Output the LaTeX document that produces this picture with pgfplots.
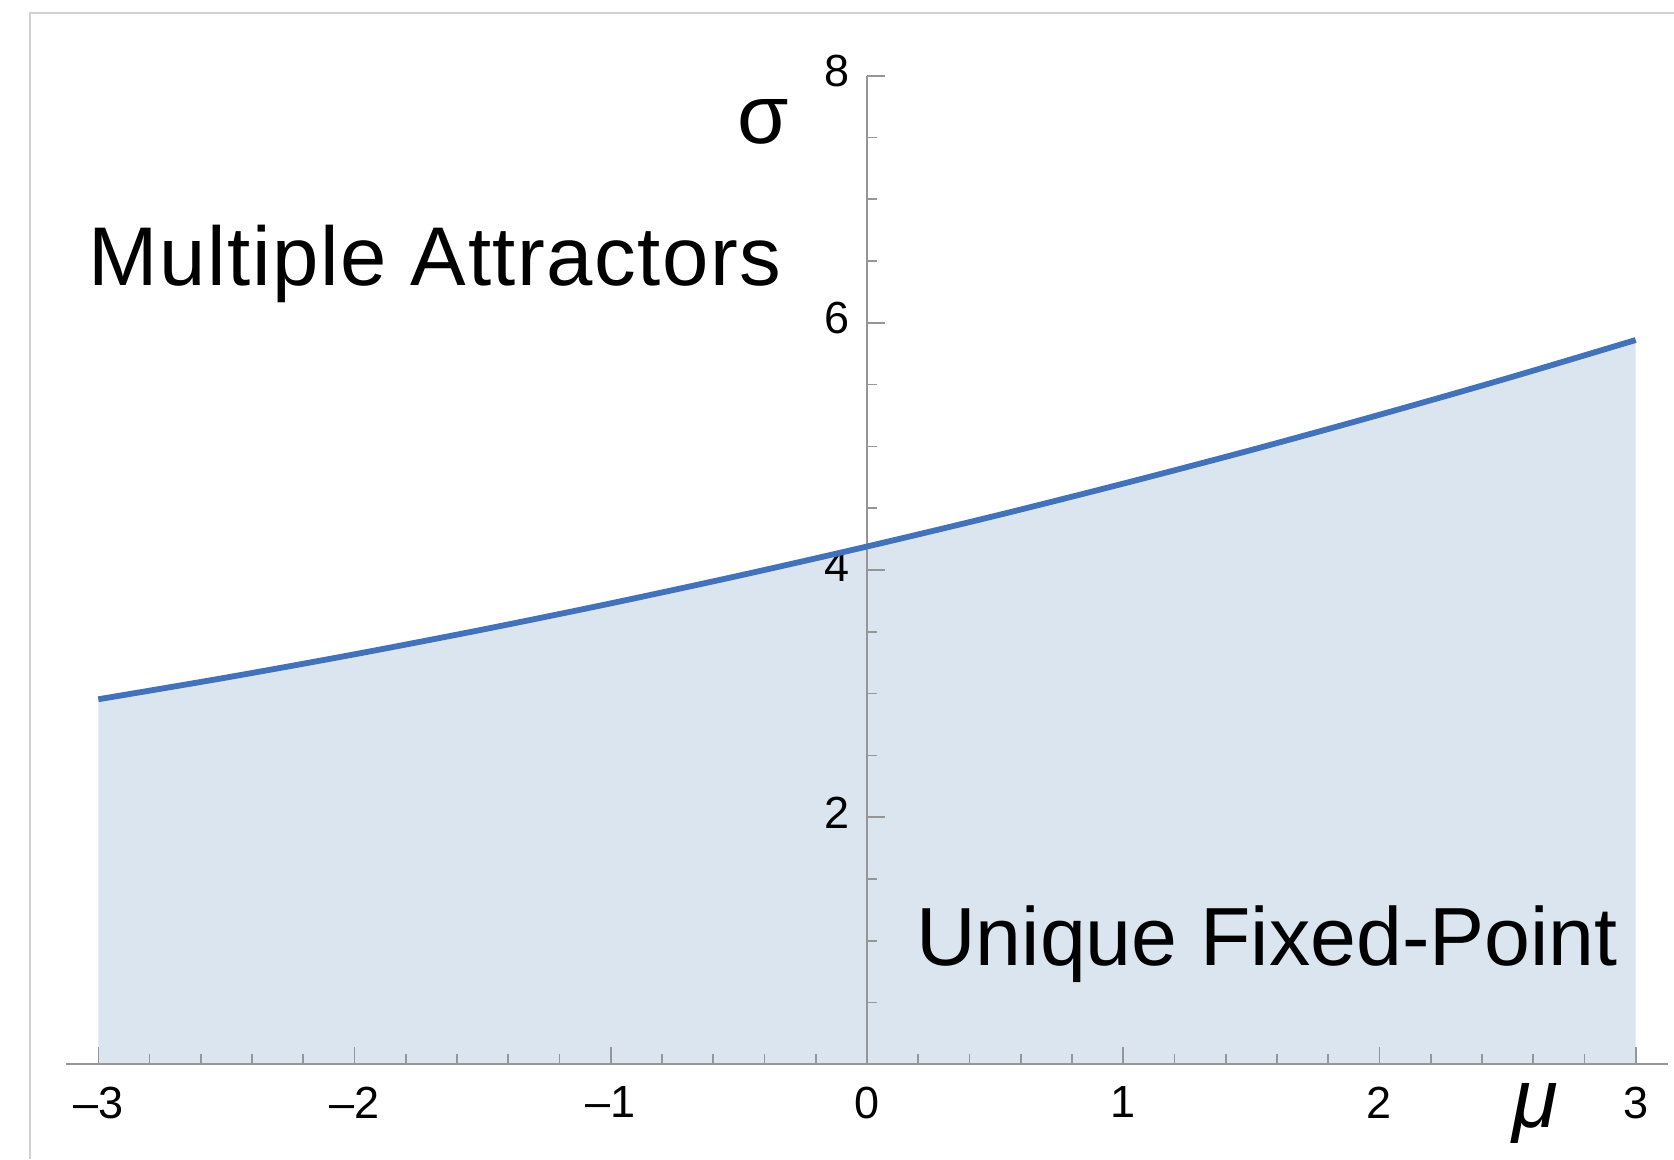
\documentclass[border=0pt]{standalone}
\usepackage{pgfplots}
\pgfplotsset{compat=1.18}
\usepackage{fontspec}
\setmainfont{Liberation Sans}
\newfontfamily\widelabel[LetterSpace=1.8]{Liberation Sans}

\definecolor{curve}{RGB}{66,115,186}
\definecolor{region}{RGB}{219,229,240}
\definecolor{axisgray}{RGB}{150,150,150}

% boundary sigma_c(mu) between the two regimes
\pgfplotstableread{
mu    sigma
-3.0  2.954
-2.5  3.130
-2.0  3.318
-1.5  3.518
-1.0  3.730
-0.5  3.954
 0.0  4.190
 0.5  4.438
 1.0  4.699
 1.5  4.971
 2.0  5.256
 2.5  5.552
 3.0  5.861
}\boundary

\begin{document}
\begin{tikzpicture}
\fill[white] (0,0) rectangle (502.2pt,347.7pt);
\draw[black!18, line width=0.6pt] (9pt,0) -- (9pt,343.8pt) -- (502.2pt,343.8pt);
\begin{axis}[
  at={(260.1pt,28.4pt)}, anchor=origin,
  scale only axis, width=480.4pt, height=296.6pt,
  xmin=-3.125, xmax=3.125, ymin=0, ymax=8,
  clip=false,
  set layers=axis on top,
  axis lines=middle,
  axis line style={-, axisgray, line width=0.6pt},
  hide obscured x ticks=false,
  tick align=inside,
  major tick length=5.3pt, minor tick length=3.0pt,
  tick style={axisgray, line width=0.5pt},
  xtick={-3,-2,-1,0,1,2,3},
  ytick={2,4,6,8},
  minor xtick={-2.8,-2.6,-2.4,-2.2,-1.8,-1.6,-1.4,-1.2,-0.8,-0.6,-0.4,-0.2,
               0.2,0.4,0.6,0.8,1.2,1.4,1.6,1.8,2.2,2.4,2.6,2.8},
  minor ytick={0.5,1,1.5,2.5,3,3.5,4.5,5,5.5,6.5,7,7.5},
  xticklabel={\pgfmathtruncatemacro\tv{round(\tick)}\ifnum\tv<0 –\the\numexpr-\tv\relax\else\tv\fi},
  yticklabel={\pgfmathtruncatemacro\tv{round(\tick)}\tv},
  ticklabel style={font=\fontsize{13.5}{16}\selectfont, text=black},
  xticklabel style={yshift=-3.2pt},
  yticklabel style={xshift=-1.6pt, yshift=1.3pt},
]
  \addplot[fill=region, draw=none] table[x=mu, y=sigma] {\boundary} \closedcycle;
  \addplot[curve, line width=1.75pt, smooth, on layer=axis foreground] table[x=mu, y=sigma] {\boundary};

  \node[anchor=base west, inner sep=0, font=\widelabel\fontsize{25}{30}\selectfont]
    at (axis cs:-3.04,6.30) {Multiple Attractors};
  \node[anchor=base west, inner sep=0, font=\fontsize{24.75}{30}\selectfont]
    at (axis cs:0.19,0.80) {Unique Fixed-Point};
  \node[anchor=base, inner sep=0, font=\fontsize{25}{30}\selectfont]
    at (axis cs:-0.406,7.45) {σ};
  \node[anchor=base, inner sep=0, font=\fontsize{25}{30}\selectfont\itshape]
    at (axis cs:2.607,-0.51) {μ};
\end{axis}
\pgfresetboundingbox
\useasboundingbox (0,0) rectangle (502.2pt,347.7pt);
\end{tikzpicture}
\end{document}
